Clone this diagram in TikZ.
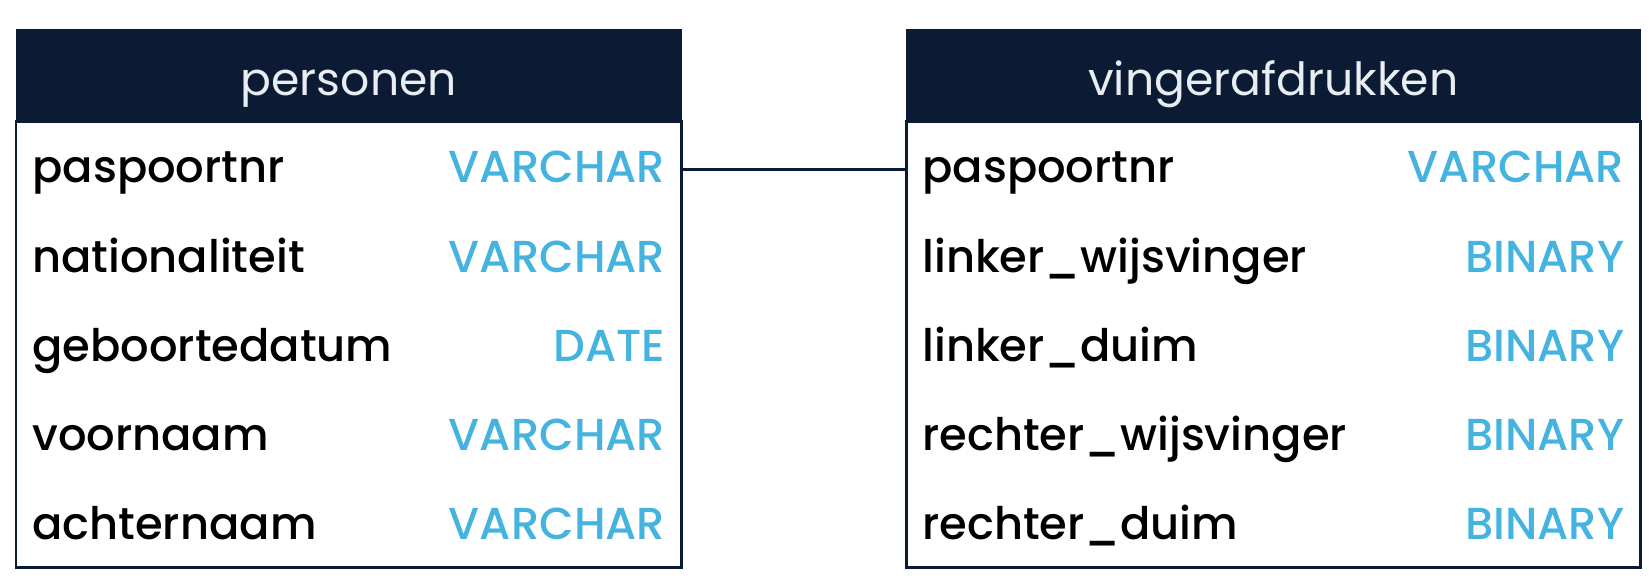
\documentclass[tikz,border=0pt]{standalone}
\usepackage{fontspec}
\setmainfont{Poppins}[UprightFont=* Medium]
\newfontfamily\headfont{Poppins}
\usetikzlibrary{positioning}
\definecolor{navy}{HTML}{0B1B33}
\definecolor{headtext}{HTML}{E8ECF3}
\definecolor{typeblue}{HTML}{45B3E0}
\newcommand{\field}[2]{#1\hfill\textcolor{typeblue}{#2}\hspace*{-0.06cm}}
\tikzset{thead/.style={draw=navy,fill=navy,text=headtext,inner sep=0pt,
           minimum height=1.84cm,text height=24pt,text depth=1pt,
           font=\headfont\fontsize{26}{30}\selectfont},
	 trow/.style={inner xsep=0.32cm,inner ysep=0pt,minimum height=1.768cm,
	   text height=21pt,text depth=2pt,font=\fontsize{25.5}{30}\selectfont},
	 tline/.style={navy,line width=1.7pt},
	 node distance = 0pt
	 }
\begin{document}
\begin{tikzpicture}[x=0.02cm,y=-0.02cm]
	\useasboundingbox (0,0) rectangle (1649,583);
	% personen
	\node[thead,minimum width=13.3cm,anchor=north west] (phead) at (16,29) {personen};
	\node[trow,text width=12.66cm] (p1) [below=of phead] {\field{paspoortnr}{VARCHAR}};
	\node[trow,text width=12.66cm] (p2) [below=of p1] {\field{nationaliteit}{VARCHAR}};
	\node[trow,text width=12.66cm] (p3) [below=of p2] {\field{geboortedatum}{DATE}};
	\node[trow,text width=12.66cm] (p4) [below=of p3] {\field{voornaam}{VARCHAR}};
	\node[trow,text width=12.66cm] (p5) [below=of p4] {\field{achternaam}{VARCHAR}};
	\draw[tline] (phead.south west) rectangle (p5.south east);
	% vingerafdrukken
	\node[thead,minimum width=14.68cm,anchor=north west] (vhead) at (906,29) {vingerafdrukken};
	\node[trow,text width=14.04cm] (v1) [below=of vhead] {\field{paspoortnr}{VARCHAR}};
	\node[trow,text width=14.04cm] (v2) [below=of v1] {\field{linker\_wijsvinger}{BINARY}};
	\node[trow,text width=14.04cm] (v3) [below=of v2] {\field{linker\_duim}{BINARY}};
	\node[trow,text width=14.04cm] (v4) [below=of v3] {\field{rechter\_wijsvinger}{BINARY}};
	\node[trow,text width=14.04cm] (v5) [below=of v4] {\field{rechter\_duim}{BINARY}};
	\draw[tline] (vhead.south west) rectangle (v5.south east);
	\draw[tline] ([yshift=-0.06cm]p1.east) to ([yshift=-0.06cm]v1.west);
\end{tikzpicture}
\end{document}
